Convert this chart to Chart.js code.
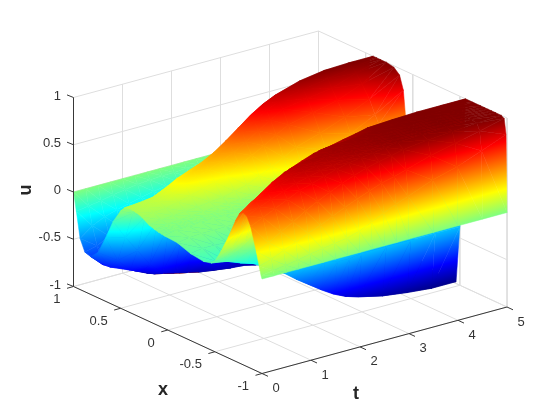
<!DOCTYPE html>
<html><head><meta charset="utf-8">
<style>html,body{margin:0;padding:0;background:#fff}canvas{display:block}</style>
<script src="https://cdn.jsdelivr.net/npm/chart.js@4"></script>
</head><body><canvas id="c" width="560" height="420"></canvas>
<script>
const xNodes=[1,.97,.93,.88,.82,.74,.66,.58,.5,.46,.42,.38,.34,.28,.2,.14,.1,.07,.04,-.1,-.24,-.38,-.46,-.5,-.56,-.64,-.72,-.76,-.8,-.84,-.88,-.94,-.97,-.99,-1];
const tNodes=[0,.25,.5,.75,1,1.25,1.5,1.75,2,2.25,2.5,2.75,3,3.5,4,4.5,5];
const u_t000=[0,-.19,-.46,-.58,-.6,-.52,-.33,-.12,.03,.08,.095,.095,.09,.07,.02,0,-.01,-.015,-.02,-.03,-.08,-.1,-.08,-.04,.08,.27,.49,.58,.61,.59,.5,.26,.12,.03,0];
const u_t025=[0,-.17,-.36,-.55,-.72,-.71,-.6,-.32,-.03,.09,.115,.115,.11,.08,.04,.02,.015,.01,.005,-.01,-.06,-.13,-.1,-.02,.09,.32,.61,.67,.7,.65,.56,.32,.16,.05,0];
const u_t050=[0,-.15,-.3,-.48,-.76,-.75,-.74,-.5,-.1,.09,.14,.14,.13,.09,.05,.03,.02,.015,.01,0,-.06,-.17,-.13,0,.12,.42,.7,.74,.75,.7,.62,.4,.22,.07,0];
const u_t075=[0,-.12,-.26,-.42,-.7,-.82,-.79,-.68,-.18,.12,.2,.2,.18,.12,.06,.04,.03,.02,.015,0,-.07,-.22,-.18,-.03,.18,.55,.79,.8,.8,.75,.68,.47,.27,.09,0];
const u_t100=[0,-.1,-.23,-.36,-.6,-.88,-.85,-.8,-.25,.15,.27,.28,.25,.15,.07,.05,.03,.025,.02,0,-.09,-.26,-.23,-.05,.25,.72,.86,.85,.84,.8,.74,.55,.33,.12,0];
const u_t125=[0,-.08,-.2,-.32,-.53,-.83,-.88,-.84,-.4,.1,.32,.33,.29,.19,.09,.06,.04,.03,.02,0,-.11,-.3,-.32,-.1,.38,.82,.9,.89,.87,.83,.78,.62,.38,.14,0];
const u_t150=[0,-.07,-.17,-.3,-.45,-.75,-.91,-.87,-.55,-.05,.37,.38,.33,.22,.1,.06,.05,.03,.02,0,-.13,-.33,-.4,-.15,.55,.87,.92,.9,.89,.86,.82,.68,.44,.16,0];
const u_t175=[0,-.06,-.15,-.27,-.38,-.68,-.9,-.9,-.72,-.25,.44,.44,.38,.26,.13,.07,.05,.03,.01,-.02,-.15,-.37,-.5,-.22,.72,.917,.93,.92,.9,.88,.86,.74,.5,.18,0];
const u_t200=[0,-.06,-.14,-.25,-.33,-.6,-.85,-.92,-.87,-.4,.53,.5,.44,.33,.16,.08,.05,.03,0,-.05,-.18,-.42,-.59,-.3,.87,.94,.94,.93,.92,.905,.89,.79,.55,.22,0];
const u_t225=[0,-.05,-.13,-.23,-.3,-.55,-.8,-.92,-.89,.1,.63,.6,.52,.4,.22,.12,.07,.04,0,-.07,-.23,-.5,-.68,-.35,.89,.95,.95,.945,.94,.925,.91,.83,.6,.28,0];
const u_t250=[0,-.05,-.12,-.21,-.27,-.5,-.75,-.9,-.9,.3,.73,.68,.6,.47,.28,.16,.1,.05,0,-.1,-.3,-.58,-.76,-.4,.92,.96,.96,.955,.95,.94,.93,.86,.65,.34,0];
const u_t275=[0,-.05,-.11,-.2,-.26,-.46,-.7,-.89,-.93,.4,.81,.76,.68,.55,.35,.21,.15,.08,.02,-.17,-.42,-.67,-.82,-.4,.945,.97,.97,.97,.97,.96,.95,.89,.68,.4,0];
const u_t300=[0,-.04,-.1,-.18,-.25,-.42,-.65,-.88,-.95,.5,.87,.82,.76,.62,.42,.27,.2,.12,.05,-.25,-.55,-.78,-.86,-.38,.975,.98,.98,.98,.98,.975,.97,.92,.72,.45,0];
const u_t350=[0,-.04,-.1,-.17,-.23,-.38,-.6,-.85,-.97,.7,.95,.88,.8,.68,.5,.35,.25,.15,.05,-.5,-.75,-.88,-.92,-.38,.99,.99,.99,.99,.99,.985,.98,.95,.8,.55,0];
const u_t400=[0,-.04,-.09,-.16,-.21,-.35,-.55,-.82,-.97,.85,.99,.92,.84,.74,.6,.45,.35,.2,.1,-.7,-.87,-.93,-.955,-.38,1,1,1,1,1,.995,.99,.97,.86,.62,0];
const u_t450=[0,-.03,-.08,-.15,-.2,-.33,-.5,-.8,-.98,.92,1,.97,.93,.84,.72,.58,.5,.35,.2,-.85,-.93,-.96,-.98,-.38,1,1,1,1,1,1,1,.99,.92,.72,0];
const u_t500=[0,-.03,-.08,-.15,-.2,-.32,-.5,-.8,-.98,.95,1,1,1,1,.985,.93,.79,.45,-.6,-.95,-.98,-.99,-.98,-.38,1,1,1,1,1,1,1,1,.98,.82,0];
const uRows=[u_t000,u_t025,u_t050,u_t075,u_t100,u_t125,u_t150,u_t175,u_t200,u_t225,u_t250,u_t275,u_t300,u_t350,u_t400,u_t450,u_t500];
const xTicks=[1,.5,0,-.5,-1];
const tTicks=[0,1,2,3,4,5];
const uTicks=[-1,-.5,0,.5,1];
const xLabel='x',tLabel='t',uLabel='u';

// Orthographic view of the axes box, fixed by where its corners fall on the page
const view={ox:73.5,oy:286.5,xx:94.25,xy:43.5,tx:49,ty:-13.3,uy:94.5};
function proj(x,t,u){return {x:view.ox+(1-x)*view.xx+t*view.tx, y:view.oy+(1-x)*view.xy+t*view.ty-(u+1)*view.uy};}

const canvas=document.getElementById('c');
const ctx=canvas.getContext('2d');
const jet=[[0,'#000080'],[.125,'#0000ff'],[.375,'#00ffff'],[.625,'#ffff00'],[.875,'#ff0000'],[1,'#800000']];
function jetSolid(u){
  const v=Math.max(0,Math.min(1,(u+1)/2));
  const hex=s=>[1,3,5].map(i=>parseInt(s.substr(i,2),16));
  for(let i=1;i<jet.length;i++){ if(v<=jet[i][0]){
    const f=(v-jet[i-1][0])/(jet[i][0]-jet[i-1][0]),a=hex(jet[i-1][1]),b=hex(jet[i][1]);
    return 'rgb('+a.map((c,k)=>Math.round(c+(b[k]-c)*f)).join(',')+')';}}
  return jet[5][1];
}
function triPaint(p,v){
  const ax=p[1].x-p[0].x,ay=p[1].y-p[0].y,bx=p[2].x-p[0].x,by=p[2].y-p[0].y;
  const det=ax*by-ay*bx,du=v[1]-v[0],dv=v[2]-v[0];
  if(Math.abs(det)<1e-3||(Math.abs(du)<1e-6&&Math.abs(dv)<1e-6)) return jetSolid((v[0]+v[1]+v[2])/3);
  const gx=(du*by-dv*ay)/det,gy=(dv*ax-du*bx)/det,g2=gx*gx+gy*gy;
  const k0=(-1-v[0])/g2,k1=(1-v[0])/g2;
  const g=ctx.createLinearGradient(p[0].x+gx*k0,p[0].y+gy*k0,p[0].x+gx*k1,p[0].y+gy*k1);
  jet.forEach(s=>g.addColorStop(s[0],s[1]));
  return g;
}
const back=[];  // painted first to last
function addLine(pts,color,width){
  back.push({type:'line',data:pts,borderColor:color,borderWidth:width,pointRadius:0,fill:false,tension:0,borderCapStyle:'butt'});
}
const GRID='#dedede',AXIS='#383838';
// back walls and floor grid
uTicks.forEach(u=>{addLine([proj(1,0,u),proj(1,5,u),proj(-1,5,u)],GRID,1);});
tTicks.forEach(t=>{addLine([proj(1,t,1),proj(1,t,-1),proj(-1,t,-1)],GRID,1);});
xTicks.forEach(x=>{addLine([proj(x,5,1),proj(x,5,-1),proj(x,0,-1)],GRID,1);});
// surface, far corner first
for(let j=tNodes.length-2;j>=0;j--){
  for(let i=0;i<xNodes.length-1;i++){
    const P=(a,b)=>proj(xNodes[a],tNodes[b],uRows[b][a]);
    const V=(a,b)=>uRows[b][a];
    const tris=[[[i,j+1],[i+1,j+1],[i,j]],[[i+1,j+1],[i+1,j],[i,j]]];
    tris.forEach(tr=>{
      const pts=tr.map(q=>P(q[0],q[1])),vals=tr.map(q=>V(q[0],q[1]));
      const paint=triPaint(pts,vals);
      back.push({type:'line',data:[pts[0],pts[1],pts[2],pts[0]],borderColor:paint,backgroundColor:paint,borderWidth:.5,pointRadius:0,fill:'shape',tension:0,borderJoinStyle:'round'});
    });
  }
}
// front axes and tick marks
addLine([proj(1,0,-1),proj(1,0,1)],AXIS,1);
addLine([proj(1,0,-1),proj(-1,0,-1)],AXIS,1);
addLine([proj(-1,0,-1),proj(-1,5,-1)],AXIS,1);
uTicks.forEach(u=>{const a=proj(1,0,u);addLine([a,{x:a.x-6.5,y:a.y-2.6}],AXIS,1);});
xTicks.forEach(x=>{const a=proj(x,0,-1);addLine([a,{x:a.x-6.5,y:a.y+1.8}],AXIS,1);});
tTicks.forEach(t=>{const a=proj(-1,t,-1);addLine([a,{x:a.x+6,y:a.y+2.8}],AXIS,1);});

const labels={id:'labels3d',afterDatasetsDraw(chart){
  const c=chart.ctx;c.save();
  c.fillStyle='#333333';c.font='13px "Liberation Sans"';c.textBaseline='middle';
  c.textAlign='right';
  uTicks.forEach(u=>{const a=proj(1,0,u);c.fillText(String(u),a.x-12.5,a.y-1.5);});
  xTicks.forEach(x=>{const a=proj(x,0,-1);c.fillText(String(x),a.x-13,a.y+13);});
  c.textAlign='center';
  tTicks.forEach(t=>{const a=proj(-1,t,-1);c.fillText(String(t),a.x+14,a.y+15);});
  c.fillStyle='#262626';c.font='bold 18px "Liberation Sans"';
  c.fillText(xLabel,163,390);c.fillText(tLabel,356,394);
  c.translate(26,190);c.rotate(-Math.PI/2);c.fillText(uLabel,0,0);
  c.restore();
}};
new Chart(ctx,{type:'line',data:{datasets:back.slice().reverse()},plugins:[labels],options:{
  responsive:false,animation:false,parsing:false,normalized:false,
  layout:{padding:0},
  plugins:{legend:{display:false},tooltip:{enabled:false}},
  scales:{x:{type:'linear',min:0,max:560,display:false},y:{type:'linear',min:0,max:420,reverse:true,display:false}}
}});
</script></body></html>
